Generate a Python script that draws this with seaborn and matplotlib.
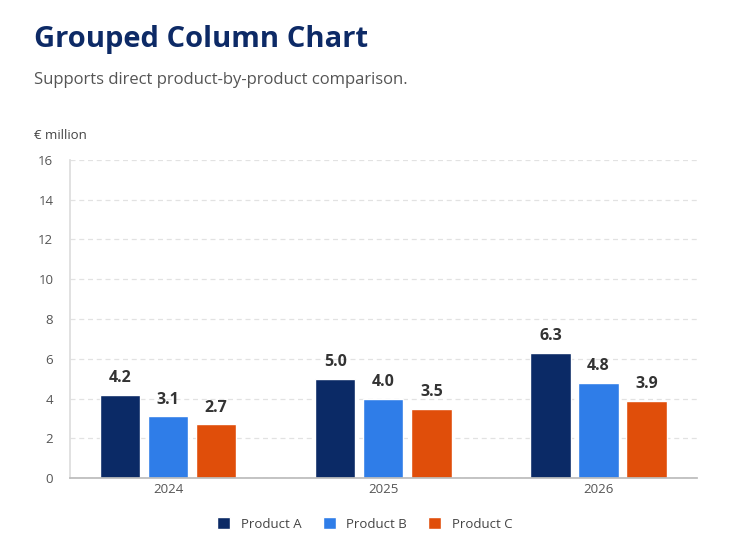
import seaborn as sns
import pandas as pd
import matplotlib.pyplot as plt

years = ["2024", "2025", "2026"]
products = ["Product A", "Product B", "Product C"]
product_a = [4.2, 5.0, 6.3]
product_b = [3.1, 4.0, 4.8]
product_c = [2.7, 3.5, 3.9]
colors = ["#0b2a66", "#2f7de8", "#e04e0a"]

df = pd.DataFrame({
    "year": years * 3,
    "product": [p for p in products for _ in years],
    "value": product_a + product_b + product_c,
})

sns.set_theme(style="white")
plt.rcParams["font.family"] = ["Open Sans", "DejaVu Sans"]

fig = plt.figure(figsize=(7.33, 5.49), dpi=100)
ax = fig.add_axes([0.0955, 0.129, 0.856, 0.58])

sns.barplot(data=df, x="year", y="value", hue="product", palette=colors,
            width=0.67, gap=0.16, saturation=1, ax=ax, legend=True)

for cont in ax.containers:
    ax.bar_label(cont, fmt="%.1f", padding=6, fontsize=11.5,
                 fontweight="bold", color="#333333")

ax.set_xlim(-0.456, 2.46)
ax.set_ylim(0, 16)
ax.set_yticks(range(0, 17, 2))
ax.set_xlabel("")
ax.set_ylabel("")
ax.tick_params(axis="both", length=0, labelsize=9.5, colors="#555555")
ax.tick_params(axis="y", pad=12)
ax.yaxis.grid(True, linestyle=(0, (4, 3)), color="#e2e2e2", linewidth=0.9)
ax.set_axisbelow(True)
for s in ["top", "right"]:
    ax.spines[s].set_visible(False)
ax.spines["left"].set_color("#dddddd")
ax.spines["bottom"].set_color("#bbbbbb")

leg = ax.legend(loc="upper center", bbox_to_anchor=(0.47, -0.085), ncol=3,
                frameon=False, fontsize=9.5, handlelength=1.0, handleheight=1.0,
                columnspacing=1.6, handletextpad=0.8)
for t in leg.get_texts():
    t.set_color("#444444")

fig.text(0.047, 0.928, "Grouped Column Chart", fontsize=21, fontweight="bold",
         color="#0d2a66", va="center")
fig.text(0.047, 0.855, "Supports direct product-by-product comparison.",
         fontsize=12, color="#555555", va="center")
fig.text(0.047, 0.753, "€ million", fontsize=9.5, color="#444444", va="center")

fig.savefig("out.png", dpi=100)
